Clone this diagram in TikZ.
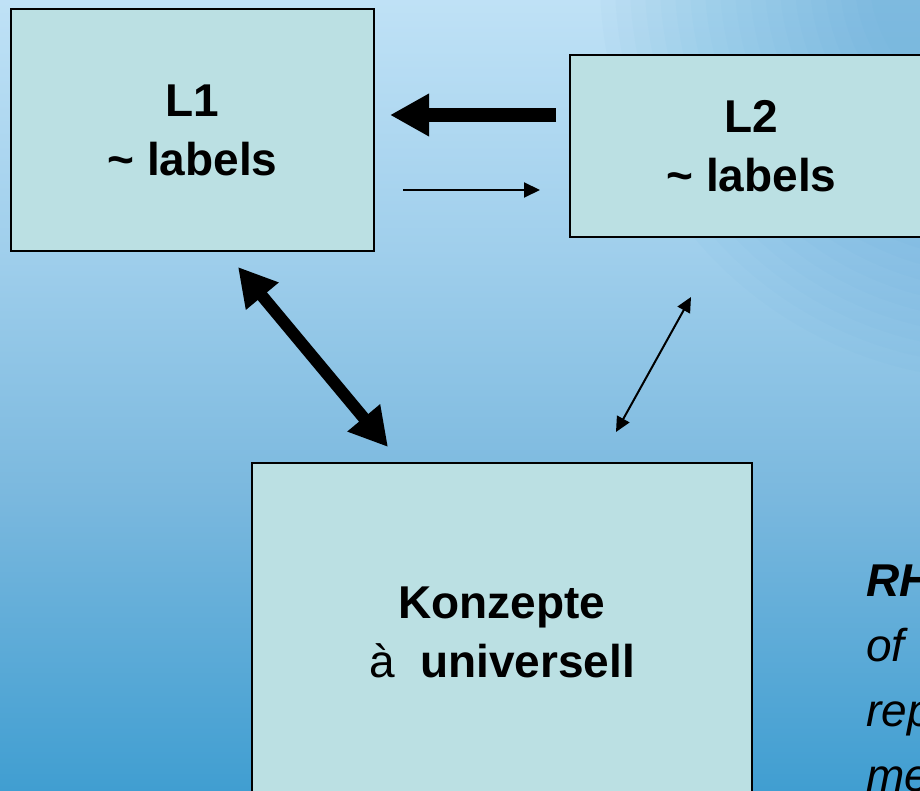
\documentclass[tikz,border=0pt]{standalone}
\usepackage{fontspec}
\setmainfont{Liberation Sans}
\usetikzlibrary{arrows.meta}

\definecolor{boxfill}{RGB}{187,224,227}
\definecolor{bga}{RGB}{64,158,209}
\definecolor{bgb}{RGB}{122,184,222}
\definecolor{bgc}{RGB}{160,207,236}
\definecolor{bgd}{RGB}{192,226,246}
\definecolor{bgdark}{RGB}{64,156,208}
\pgfdeclareverticalshading{basebg}{920bp}{color(0bp)=(bga); color(291bp)=(bgb); color(541bp)=(bgc); color(795bp)=(bgd)}

\begin{document}
\begin{tikzpicture}[
    x=1pt, y=-1pt,
    box/.style={rectangle, draw, line width=1.6pt, fill=boxfill, inner sep=0pt, minimum width=363pt, align=center, font=\fontsize{46pt}{59pt}\selectfont\bfseries},
    bigarrow/.style={line width=14pt, -{Triangle[length=39pt, width=40pt]}},
    bigboth/.style={line width=12pt, {Triangle[length=38pt, width=40pt]}-{Triangle[length=38pt, width=40pt]}},
    thinarrow/.style={line width=2pt, -{Triangle[length=16pt, width=15pt]}},
    thinboth/.style={line width=2pt, {Triangle[length=15pt, width=14pt]}-{Triangle[length=15pt, width=14pt]}},
    note/.style={anchor=north west, inner sep=0pt, align=left, font=\fontsize{46pt}{65pt}\selectfont\itshape}
]

\useasboundingbox (0,0) rectangle (920,791);
\begin{scope}
\clip (0,0) rectangle (920,791);
% background
\node[inner sep=0pt, anchor=south west] (bgbase) at (0,791) {\pgfuseshading{basebg}};
\foreach \r in {130,145,...,400}
  \fill[bgdark, opacity=0.032] (1000,-20) circle (\r);

\node[box, minimum height=242pt] (lone) at (192.5,130) {L1\\\char`~\ labels};
\node[box, minimum height=182pt] (ltwo) at (751.5,146) {L2\\\char`~\ labels};
\node[box, minimum width=500pt, minimum height=338pt] (konzept) at (502,632) {Konzepte\\{\mdseries à}\ \ universell};

\coordinate (ltwoout) at (556,115);
\coordinate (loneIn) at (390,115);
\coordinate (loneout) at (403,190);
\coordinate (ltwoin) at (540,190);
\coordinate (lonedown) at (238,267);
\coordinate (konzeptup) at (388,447);
\coordinate (ltwodown) at (691,297);
\coordinate (konzeptright) at (616,432);

\draw[bigarrow] (ltwoout) -- (loneIn);
\draw[thinarrow] (loneout) -- (ltwoin);
\draw[bigboth] (lonedown) -- (konzeptup);
\draw[thinboth] (ltwodown) -- (konzeptright);

% Annotations
\node[note] (rhnote) at (866,565) {\textbf{RH}\\of\\rep\\me};
\end{scope}

\end{tikzpicture}
\end{document}
